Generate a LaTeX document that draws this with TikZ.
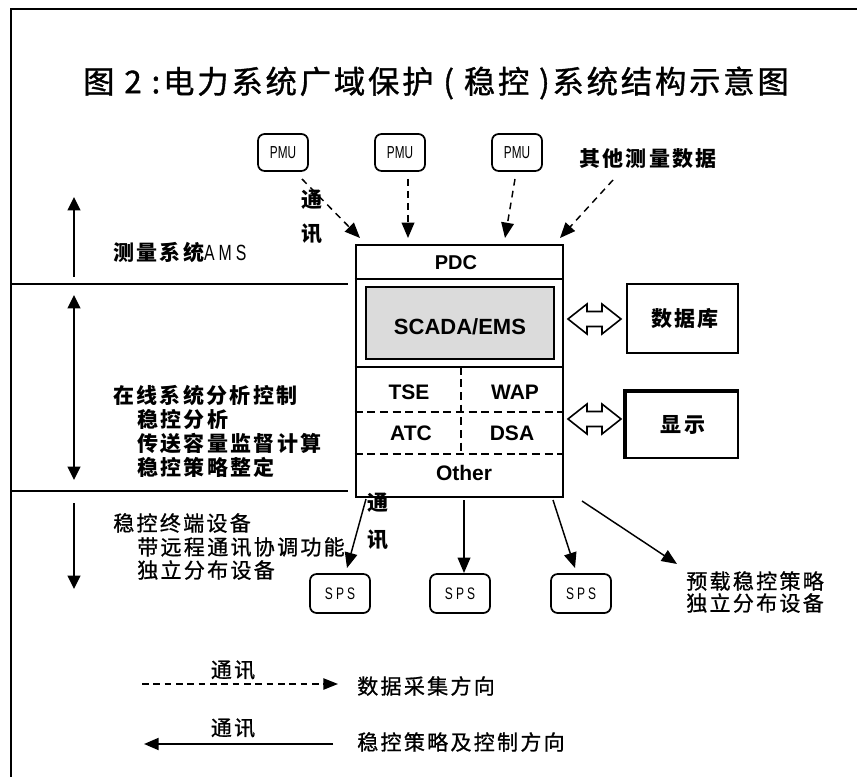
\documentclass[tikz,border=0pt]{standalone}
\usepackage{fontspec}
\usetikzlibrary{arrows.meta}
\setmainfont{Liberation Sans}
\newfontfamily\cjk[LetterSpace=11]{Noto Sans CJK SC}
\newfontfamily\cjkm[LetterSpace=11,FakeBold=0.9]{Noto Sans CJK SC}
\newfontfamily\cjkt[LetterSpace=9,FakeBold=1.2]{Noto Sans CJK SC}
\newfontfamily\lsp[LetterSpace=25]{Liberation Sans}
\newcommand\mysz[1]{\fontsize{#1}{1.2\dimexpr#1\relax}\selectfont}
\tikzset{
  lbl/.style={inner sep=0pt, font=\cjk\bfseries\mysz{15.75pt}},
  lblr/.style={inner sep=0pt, font=\cjkm\mysz{15.75pt}},
  lat/.style={inner sep=0pt, font=\bfseries\mysz{15.75pt}},
  bx/.style={draw, line width=1.6pt, inner sep=0pt},
  rbox/.style={draw, line width=1.3pt, rounded corners=5pt, inner sep=0pt},
  arr/.style={line width=1.1pt, -{Triangle[length=11.5pt,width=9.5pt]}},
  darr/.style={arr, dash pattern=on 5pt off 4pt},
  sideline/.style={line width=1.6pt},
  vgarr/.style={line width=1.5pt},
  inner/.style={line width=1.2pt, dash pattern=on 6pt off 3.5pt},
  holl/.style={line width=1.2pt, draw, fill=white}
}
\begin{document}
\begin{tikzpicture}[x=0.75pt,y=-0.75pt]
\useasboundingbox (0,0) rectangle (857,777);
% frame
\draw[line width=1.9pt] (11,777) -- (11,9) -- (857,9);
% title
\node[inner sep=0pt, font=\cjkt\mysz{23.5pt}] (title) at (436,83) {图 2 :电力系统广域保护 ( 稳控 )系统结构示意图};

% PMU nodes
\foreach \n/\x in {pmu1/283,pmu2/400,pmu3/517}{
  \node[rbox, minimum width=37.5pt, minimum height=27.75pt] (\n) at (\x,152.5)
    {\scalebox{0.68}[1]{\mysz{13pt}PMU}};
}
\node[lbl, anchor=west] (other) at (579,159) {其他测量数据};

% main system box
\node[bx, minimum width=155.5pt, minimum height=188.8pt] (sys) at (459.35,370.85) {};
\draw[line width=1.6pt] (sys.north west |- 0,279) coordinate (l1) -- (sys.north east |- 0,279);
\node[draw, line width=1.5pt, fill=black!14, minimum width=141.2pt, minimum height=54.2pt, inner sep=0pt] (scada) at (459.85,322.85) {};
\node[lat, font=\bfseries\mysz{16.5pt}] (scadat) at (460,327) {SCADA/EMS};
\draw[line width=1.6pt] (sys.west |- 0,366.7) -- (sys.east |- 0,366.7);
\draw[inner] (sys.west |- 0,412) -- (sys.east |- 0,412);
\draw[inner] (sys.west |- 0,453.7) -- (sys.east |- 0,453.7);
\draw[inner] (460.7,366.7) -- (460.7,453.7);
\node[lat, font=\bfseries\mysz{15pt}] (pdc) at (456,263) {PDC};
\node[lat] (tse) at (409,392) {TSE};
\node[lat] (wap) at (515,392) {WAP};
\node[lat] (atc) at (411,433) {ATC};
\node[lat] (dsa) at (512,433) {DSA};
\node[lat] (oth) at (464,473) {Other};

% database & display
\node[bx, minimum width=83.25pt, minimum height=51.75pt] (db) at (682.5,318.5) {};
\node[lbl] (dbt) at (685,319) {数据库};
\node[bx, minimum width=84pt, minimum height=49.5pt] (disp) at (682,425) {};
\draw[line width=2.3pt] (disp.south west) -- (disp.north west) -- (disp.north east);
\node[lbl] (dispt) at (683,425) {显示};

% hollow double arrows
\foreach \yy in {319,419}{
  \draw[holl] (568,\yy) -- ++(19,-15) -- ++(0,7.5) -- ++(15,0) -- ++(0,-7.5) -- ++(19,15)
     -- ++(-19,15) -- ++(0,-7.5) -- ++(-15,0) -- ++(0,7.5) -- cycle;
}

% dashed arrows in
\coordinate (e1) at (360,238);
\coordinate (e2) at (408,238);
\coordinate (e3) at (505,238);
\coordinate (e4) at (560,238);
\coordinate (s1) at (302,179);
\coordinate (s2) at (408,179);
\coordinate (s3) at (515,179);
\coordinate (s4) at (613,180);
\draw[darr] (s1) -- (e1);
\draw[darr] (s2) -- (e2);
\draw[darr] (s3) -- (e3);
\draw[darr] (s4) -- (e4);
\node[lbl, align=center, font=\cjk\bfseries\fontsize{15.75pt}{25.5pt}\selectfont] (tx1) at (312,217) {通\\讯};

% SPS nodes
\foreach \n/\x in {sps1/340,sps2/460,sps3/581}{
  \node[rbox, minimum width=45pt, minimum height=29.25pt] (\n) at (\x,593.5)
    {\scalebox{0.72}[1]{\lsp\mysz{12.5pt}SPS}};
}
\coordinate (d1s) at (366,499); \coordinate (d1e) at (347,568);
\coordinate (d2s) at (464,500); \coordinate (d2e) at (464,573);
\coordinate (d3s) at (553,500); \coordinate (d3e) at (575,568);
\coordinate (d4s) at (582,501); \coordinate (d4e) at (677,564);
\draw[arr] (d1s) -- (d1e);
\draw[arr] (d2s) -- (d2e);
\draw[arr] (d3s) -- (d3e);
\draw[arr] (d4s) -- (d4e);
\node[lbl, align=center, font=\cjk\bfseries\fontsize{15.75pt}{27.75pt}\selectfont] (tx2) at (378,521.5) {通\\讯};
\node[lblr, anchor=west] (pre1) at (686,581) {预载稳控策略};
\node[lblr, anchor=west] (pre2) at (686,603) {独立分布设备};

% left side
\draw[sideline] (11,284.3) coordinate (b1l) -- (348,284.3) coordinate (b1r);
\draw[sideline] (11,491) coordinate (b2l) -- (348,491) coordinate (b2r);
\coordinate (v1a) at (74,277); \coordinate (v1b) at (74,197);
\coordinate (v2a) at (74,295); \coordinate (v2b) at (74,480);
\coordinate (v3a) at (74,503); \coordinate (v3b) at (74,589);
\draw[vgarr, -{Triangle[length=10pt,width=9.5pt]}] (v1a) -- (v1b);
\draw[vgarr, {Triangle[length=10pt,width=9.5pt]}-{Triangle[length=10pt,width=9.5pt]}] (v2a) -- (v2b);
\draw[vgarr, -{Triangle[length=10pt,width=9.5pt]}] (v3a) -- (v3b);

\node[lbl, anchor=west] (ams) at (113,252) {测量系统\scalebox{0.72}[1]{\lsp\mysz{16.5pt}\mdseries AMS}};
\node[lbl, anchor=west] (on1) at (113,395) {在线系统分析控制};
\node[lbl, anchor=west] (on2) at (137,419) {稳控分析};
\node[lbl, anchor=west] (on3) at (137,443) {传送容量监督计算};
\node[lbl, anchor=west] (on4) at (137,467) {稳控策略整定};
\node[lblr, anchor=west] (te1) at (113,523) {稳控终端设备};
\node[lblr, anchor=west] (te2) at (137,547) {带远程通讯协调功能};
\node[lblr, anchor=west] (te3) at (137,570) {独立分布设备};

% legend
\node[lblr] (lg1t) at (233,670) {通讯};
\coordinate (lg1a) at (142,684); \coordinate (lg1b) at (338,684);
\draw[line width=1.1pt, dash pattern=on 5pt off 3.5pt, -{Triangle[length=11pt,width=8.5pt]}] (lg1a) -- (lg1b);
\node[lblr, anchor=west] (lg1) at (357,686) {数据采集方向};
\node[lblr] (lg2t) at (233,728) {通讯};
\coordinate (lg2a) at (333,744); \coordinate (lg2b) at (144,744);
\draw[line width=1.5pt, -{Triangle[length=11pt,width=9pt]}] (lg2a) -- (lg2b);
\node[lblr, anchor=west] (lg2) at (357,742) {稳控策略及控制方向};
\end{tikzpicture}
\end{document}
